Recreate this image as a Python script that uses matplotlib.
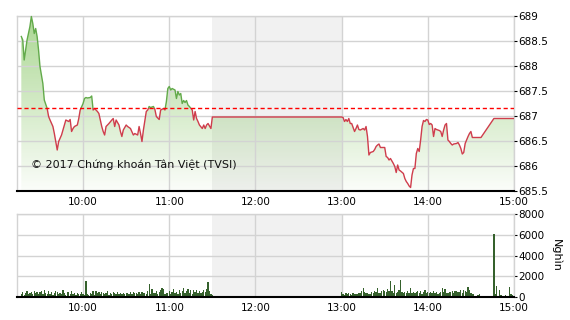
import numpy as np
import matplotlib
matplotlib.use('Agg')
import matplotlib.pyplot as plt
from matplotlib.patches import Rectangle

plt.rcParams['font.family'] = ['DejaVu Sans']

ref_price = 687.15

price_times = ['09:17', '09:18', '09:19', '09:20', '09:21', '09:23', '09:24', '09:25', '09:26', '09:27',
               '09:28', '09:29', '09:30', '09:32', '09:33', '09:35', '09:36', '09:37', '09:39', '09:40',
               '09:41', '09:42', '09:43', '09:45', '09:46', '09:47', '09:48', '09:50', '09:51', '09:52',
               '09:53', '09:54', '09:56', '09:57', '09:58', '10:00', '10:01', '10:02', '10:03', '10:05',
               '10:06', '10:07', '10:08', '10:10', '10:11', '10:13', '10:14', '10:15', '10:16', '10:18',
               '10:20', '10:21', '10:22', '10:23', '10:25', '10:26', '10:27', '10:28', '10:30', '10:31',
               '10:33', '10:35', '10:36', '10:38', '10:39', '10:40', '10:41', '10:42', '10:44', '10:45',
               '10:46', '10:47', '10:49', '10:50', '10:51', '10:53', '10:54', '10:56', '10:57', '10:58',
               '10:59', '11:00', '11:01', '11:02', '11:04', '11:05', '11:06', '11:07', '11:08', '11:09',
               '11:10', '11:11', '11:12', '11:13', '11:14', '11:16', '11:17', '11:18', '11:19', '11:20',
               '11:21', '11:23', '11:24', '11:25', '11:26', '11:27', '11:29', '11:30',
               '13:00', '13:01', '13:02', '13:03', '13:04', '13:05', '13:06', '13:07', '13:09', '13:10',
               '13:11', '13:12', '13:13', '13:15', '13:16', '13:17', '13:18', '13:19', '13:20', '13:22',
               '13:23', '13:24', '13:25', '13:26', '13:27', '13:29', '13:30', '13:31', '13:32', '13:33',
               '13:34', '13:36', '13:37', '13:38', '13:39', '13:40', '13:41', '13:43', '13:44', '13:45',
               '13:46', '13:47', '13:48', '13:49', '13:50', '13:51', '13:52', '13:53', '13:54', '13:55',
               '13:56', '13:57', '13:58', '13:59', '14:00', '14:01', '14:02', '14:03', '14:04', '14:05',
               '14:06', '14:08', '14:09', '14:10', '14:11', '14:12', '14:13', '14:14', '14:15', '14:16',
               '14:17', '14:18', '14:20', '14:21', '14:22', '14:23', '14:24', '14:25', '14:26', '14:28',
               '14:29', '14:30', '14:31', '14:37', '14:46', '15:00']
prices = [688.59, 688.52, 688.12, 688.32, 688.52, 688.79, 688.99, 688.85, 688.65, 688.75,
          688.59, 688.32, 687.99, 687.65, 687.32, 687.15, 686.99, 686.92, 686.79, 686.65,
          686.49, 686.32, 686.49, 686.62, 686.72, 686.82, 686.92, 686.89, 686.93, 686.69,
          686.75, 686.79, 686.82, 686.95, 687.12, 687.25, 687.35, 687.37, 687.36, 687.37,
          687.40, 687.12, 687.15, 687.09, 687.05, 686.79, 686.69, 686.62, 686.79, 686.85,
          686.92, 686.95, 686.79, 686.92, 686.82, 686.69, 686.59, 686.72, 686.82, 686.79,
          686.75, 686.62, 686.65, 686.62, 686.79, 686.65, 686.49, 686.72, 687.09, 687.12,
          687.19, 687.17, 687.19, 687.13, 686.99, 686.93, 687.12, 687.15, 687.12, 687.29,
          687.55, 687.59, 687.52, 687.55, 687.52, 687.35, 687.49, 687.42, 687.45, 687.25,
          687.31, 687.27, 687.31, 687.22, 687.19, 687.12, 686.92, 687.09, 686.95, 686.89,
          686.82, 686.75, 686.82, 686.75, 686.82, 686.85, 686.75, 686.98,
          686.98, 686.97, 686.89, 686.93, 686.89, 686.95, 686.85, 686.85, 686.69, 686.75,
          686.82, 686.73, 686.72, 686.75, 686.72, 686.79, 686.59, 686.22, 686.27, 686.29,
          686.33, 686.39, 686.42, 686.44, 686.37, 686.37, 686.37, 686.19, 686.17, 686.12,
          686.15, 686.05, 685.99, 685.87, 686.02, 685.92, 685.90, 685.85, 685.75, 685.69,
          685.65, 685.60, 685.57, 685.82, 685.95, 685.95, 686.25, 686.35, 686.29, 686.52,
          686.79, 686.91, 686.89, 686.93, 686.92, 686.83, 686.85, 686.82, 686.59, 686.75,
          686.73, 686.71, 686.69, 686.59, 686.72, 686.82, 686.85, 686.52, 686.49, 686.45,
          686.42, 686.44, 686.45, 686.47, 686.42, 686.35, 686.24, 686.27, 686.45, 686.59,
          686.65, 686.69, 686.57, 686.57, 686.95, 686.95]

# volume (thousand shares), one value per minute
vol_am_start = '09:17'
vol_am = [300, 450, 200, 350, 600, 250, 400, 500, 300, 550, 350, 450, 250,
          500, 600, 300, 650, 400, 250, 550, 300, 450, 200,
          350, 600, 500, 250, 400, 300, 650, 350, 200, 450,
          500, 300, 550, 250, 400, 200, 350, 300, 250, 450,
          300, 200, 1500, 250, 150, 400, 300, 550, 200, 600,
          350, 500, 250, 450, 400, 300, 350, 550, 200, 400,
          300, 450, 350, 250, 500, 300, 400, 250, 350, 300,
          400, 350, 250, 450, 300, 500, 350, 400, 250, 450,
          300, 500, 350, 400, 250, 550, 1250, 300, 750, 400,
          350, 600, 300, 450, 700, 900, 800, 250, 400, 350,
          600, 300, 500, 800, 350, 450, 300, 650, 400, 550,
          900, 350, 600, 800, 400, 700, 300, 650, 450, 700,
          400, 600, 350, 500, 700, 450, 800, 1400, 550, 300,
          200]
vol_pm_start = '13:00'
vol_pm = [450, 300, 200, 350, 250, 400, 300, 200, 350, 250,
          300, 250, 400, 350, 600, 850, 500, 350, 400, 300,
          250, 450, 350, 600, 500, 900, 400, 350, 550, 700,
          600, 450, 800, 550, 1500, 600, 400, 1200, 350, 500,
          700, 1600, 450, 350, 500, 400, 600, 350, 850, 400,
          500, 350, 450, 600, 400, 550, 300, 450, 650, 400,
          500, 350, 450, 400, 600, 350, 500, 300, 400, 450,
          900, 450, 800, 400, 350, 500, 450, 600, 400, 550,
          600, 450, 500, 650, 400, 700, 600, 500, 1000, 700,
          400, 300, 250, 0, 0, 200, 250, 0, 0, 0,
          0, 0, 0, 0, 0, 0, 6100, 250, 1100, 0,
          700, 200, 0, 0, 150, 0, 0, 1000, 300, 200,
          0]

hour_labels = ['10:00', '11:00', '12:00', '13:00', '14:00', '15:00']


def to_min(s):
    h, m = s.split(':')
    return int(h) * 60 + int(m) - 540


x = np.array([to_min(t) for t in price_times], dtype=float)
y = np.array(prices)
xmin, xmax = 14, 360
ymin, ymax = 685.5, 689
break_start, break_end = to_min('11:30'), to_min('13:00')
grid_c = '#d3d3d3'

fig = plt.figure(figsize=(5.7, 3.2), dpi=100)
ax = fig.add_axes([17 / 570, 129 / 320, 497 / 570, 175 / 320])
axv = fig.add_axes([17 / 570, 23 / 320, 497 / 570, 83 / 320])

# ---- price panel ----
ax.axvspan(break_start, break_end, color='#f1f1f1', lw=0, zorder=0)
poly = ax.fill_between(x, y, ymin, color='none', lw=0)
grad = np.zeros((256, 1, 4))
grad[:, :, 0] = 0.47
grad[:, :, 1] = 0.75
grad[:, :, 2] = 0.31
grad[:, 0, 3] = np.linspace(0.03, 0.62, 256)
im = ax.imshow(grad, extent=[xmin, xmax, ymin, ymax], origin='lower', aspect='auto',
               zorder=1, interpolation='bilinear')
im.set_clip_path(poly.get_paths()[0], transform=ax.transData)

ax.grid(True, color=grid_c, lw=1, zorder=2)
ax.set_axisbelow(False)
for gl in ax.get_xgridlines() + ax.get_ygridlines():
    gl.set_zorder(2)

green_line, = ax.plot(x, y, color='#62aa4a', lw=1.0, zorder=4)
red_line, = ax.plot(x, y, color='#cf3d4c', lw=1.0, zorder=4)
green_line.set_clip_path(Rectangle((xmin, ref_price), xmax - xmin, ymax - ref_price + 1,
                                   transform=ax.transData))
red_line.set_clip_path(Rectangle((xmin, ymin - 1), xmax - xmin, ref_price - ymin + 1,
                                 transform=ax.transData))
ax.axhline(ref_price, color='#ff0000', lw=1, dashes=(3, 2), zorder=5)

ax.text(to_min('09:24'), 686.03, '\u00a9 2017 Ch\u1ee9ng kho\u00e1n T\u00e2n Vi\u1ec7t (TVSI)',
        fontsize=8, color='#111111', va='center', ha='left', zorder=6)

ax.set_xlim(xmin, xmax)
ax.set_ylim(ymin, ymax)
ax.set_yticks(np.arange(685.5, 689.01, 0.5))
ax.set_yticklabels(['685.5', '686', '686.5', '687', '687.5', '688', '688.5', '689'])
ax.set_xticks([to_min(t) for t in hour_labels])
ax.set_xticklabels(hour_labels)
ax.yaxis.tick_right()

# ---- volume panel ----
axv.axvspan(break_start, break_end, color='#f1f1f1', lw=0, zorder=0)
axv.grid(True, color=grid_c, lw=1, zorder=1)
am_x = to_min(vol_am_start) + np.arange(len(vol_am))
pm_x = to_min(vol_pm_start) + np.arange(len(vol_pm))
axv.bar(am_x, vol_am, width=0.9, color='#35612c', lw=0, zorder=3)
axv.bar(pm_x, vol_pm, width=0.9, color='#35612c', lw=0, zorder=3)
axv.set_xlim(xmin, xmax)
axv.set_ylim(0, 8000)
axv.set_yticks(np.arange(0, 8001, 2000))
axv.set_xticks([to_min(t) for t in hour_labels])
axv.set_xticklabels(hour_labels)
axv.yaxis.tick_right()
axv.yaxis.set_label_position('right')
axv.set_ylabel('Ngh\u00ecn', rotation=270, fontsize=8, labelpad=12)

for a in (ax, axv):
    for side in ('left', 'top', 'right'):
        a.spines[side].set_color(grid_c)
        a.spines[side].set_linewidth(1)
    a.spines['bottom'].set_color('black')
    a.spines['bottom'].set_linewidth(1.5)
    a.spines['bottom'].set_zorder(6)
    a.tick_params(axis='x', length=0, pad=4, labelsize=7.5)
    a.tick_params(axis='y', length=2, pad=1, labelsize=7.5, color='black')

fig.savefig('out.png', dpi=100)
